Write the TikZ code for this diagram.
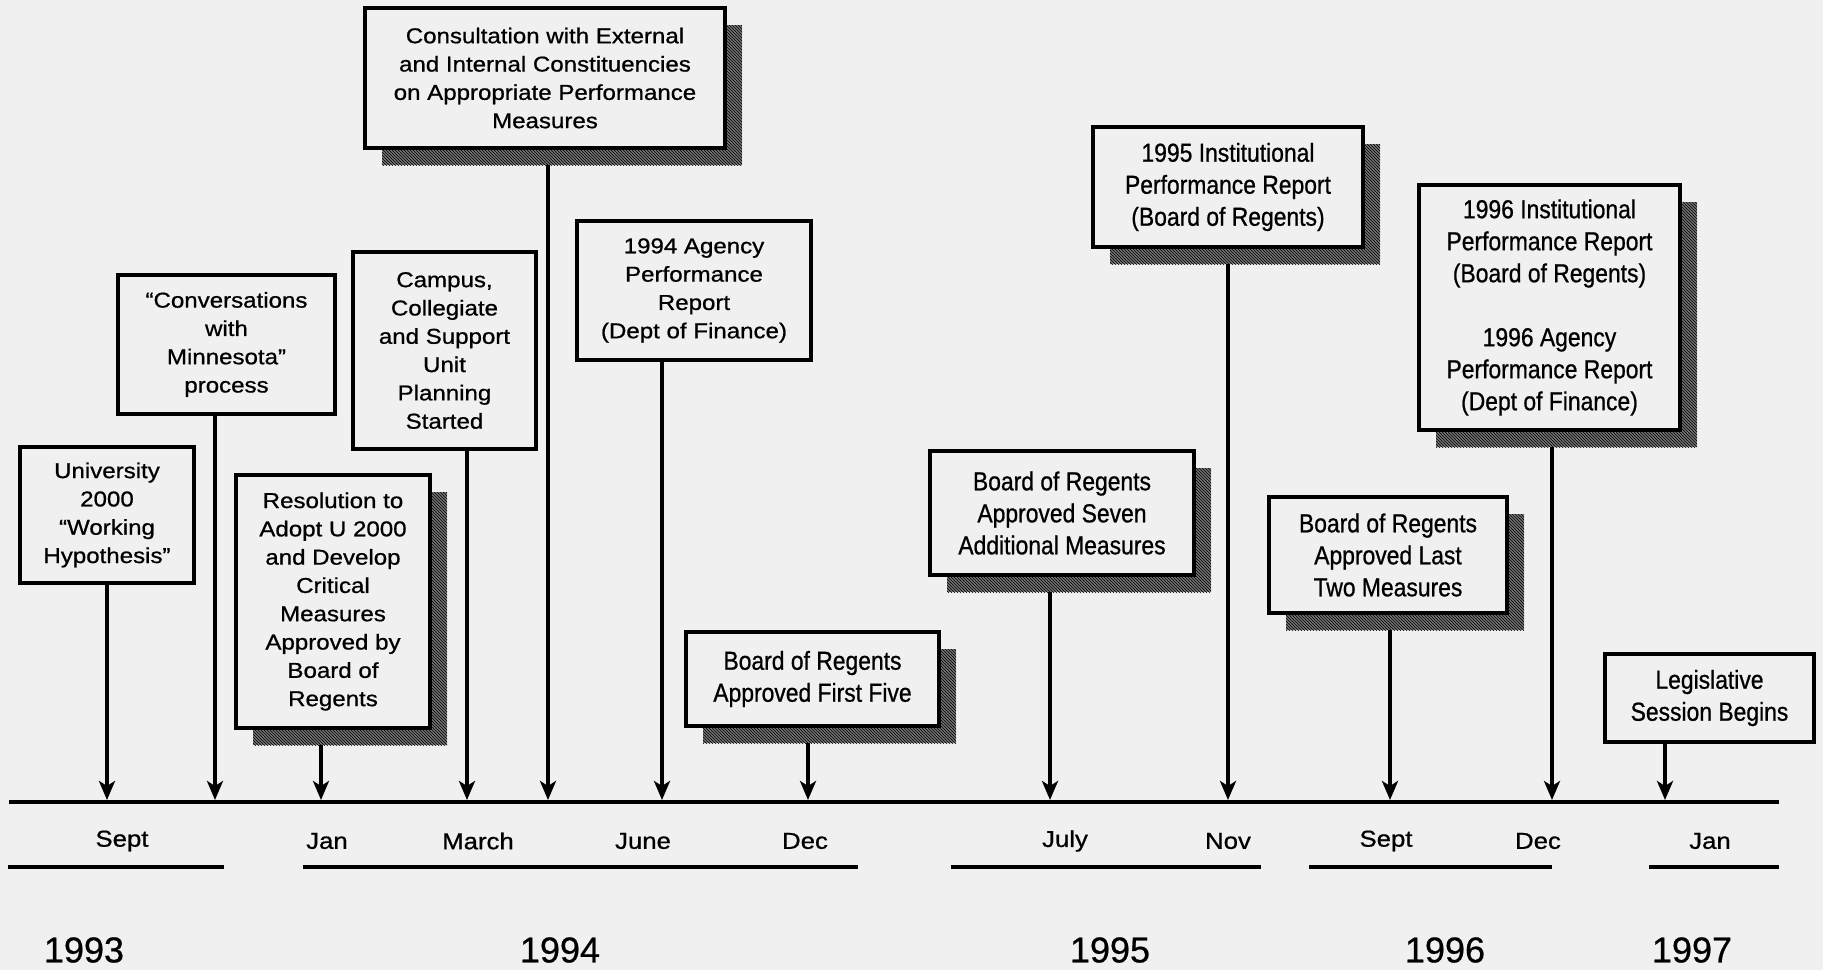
\documentclass[tikz,border=0pt]{standalone}
\usepackage{fontspec}
\setmainfont[FakeBold=0.6]{Liberation Sans}
\newfontfamily\widesans[FakeStretch=1.12, FakeBold=0.8]{Liberation Sans}
\newfontfamily\narrowsans[FakeStretch=0.88, FakeBold=0.8]{Liberation Sans}
\usetikzlibrary{shadows,patterns,arrows.meta,backgrounds}
\definecolor{paper}{gray}{0.94}
\tikzstyle{l2}=[line width=3.5pt]
\tikzstyle{ev}=[rectangle, draw=black, l2, fill=paper, align=center, inner sep=4pt, font=\widesans\fontsize{21.5}{28.3}\selectfont]
\tikzstyle{evr}=[ev, font=\narrowsans\fontsize{26}{32}\selectfont]
\tikzstyle{shd}=[drop shadow={shadow xshift=17pt, shadow yshift=-17pt, opacity=1, fill=black!55, postaction={pattern=north west lines, pattern color=black}}]
\tikzstyle{conn}=[l2, -{Stealth[length=19pt, width=16pt, inset=5pt]}]
\tikzstyle{mon}=[font=\widesans\fontsize{23}{28}\selectfont]
\tikzstyle{yr}=[font=\fontsize{36}{40}\selectfont]

\begin{document}
\begin{tikzpicture}[x=1pt, y=-1pt]
    \useasboundingbox (0,0) rectangle (1823,970);
    % event boxes
    \node[ev, minimum width=174pt, minimum height=136pt] at (107,515) (univ) {University\\2000\\“Working\\Hypothesis”};
    \node[ev, minimum width=217pt, minimum height=139pt] at (226.5,344.5) (conv) {“Conversations\\with\\Minnesota”\\process};
    \node[ev, shd, minimum width=194pt, minimum height=253pt] at (333,601.5) (resol) {Resolution to\\Adopt U 2000\\and Develop\\Critical\\Measures\\Approved by\\Board of\\Regents};
    \node[ev, minimum width=183pt, minimum height=197pt] at (444.5,350.5) (campus) {Campus,\\Collegiate\\and Support\\Unit\\Planning\\Started};
    \node[ev, shd, minimum width=360pt, minimum height=140pt] at (545,78) (consult) {Consultation with External\\and Internal Constituencies\\on Appropriate Performance\\Measures};
    \node[ev, minimum width=234pt, minimum height=139pt] at (694,290.5) (agency94) {1994 Agency\\Performance\\Report\\(Dept of Finance)};
    \node[evr, shd, minimum width=253pt, minimum height=94pt] at (812.5,679) (five) {Board of Regents\\Approved First Five};
    \node[evr, shd, minimum width=264pt, minimum height=124pt] at (1062,513) (seven) {Board of Regents\\Approved Seven\\Additional Measures};
    \node[evr, shd, minimum width=270pt, minimum height=120pt] at (1228,187) (inst95) {1995 Institutional\\Performance Report\\(Board of Regents)};
    \node[evr, shd, minimum width=238pt, minimum height=116pt] at (1388,555) (lasttwo) {Board of Regents\\Approved Last\\Two Measures};
    \node[evr, shd, minimum width=261pt, minimum height=245pt] at (1549.5,307.5) (inst96) {1996 Institutional\\Performance Report\\(Board of Regents)\\[32pt]1996 Agency\\Performance Report\\(Dept of Finance)};
    \node[evr, minimum width=209pt, minimum height=88pt] at (1709.5,698) (legis) {Legislative\\Session Begins};

    % points on the time line
    \coordinate (p1) at (107,800);
    \coordinate (p2) at (215,800);
    \coordinate (p3) at (321,800);
    \coordinate (p4) at (467,800);
    \coordinate (p5) at (548,800);
    \coordinate (p6) at (662,800);
    \coordinate (p7) at (808,800);
    \coordinate (p8) at (1050,800);
    \coordinate (p9) at (1228,800);
    \coordinate (p10) at (1390,800);
    \coordinate (p11) at (1552,800);
    \coordinate (p12) at (1665,800);
    \draw[line width=4pt] (9,802) -- (1779,802);

    % months
    \node[mon] at (122,841) (m1) {Sept};
    \node[mon] at (327,841) (m2) {Jan};
    \node[mon] at (478,841) (m3) {March};
    \node[mon] at (643,841) (m4) {June};
    \node[mon] at (805,841) (m5) {Dec};
    \node[mon] at (1065,841) (m6) {July};
    \node[mon] at (1228,841) (m7) {Nov};
    \node[mon] at (1386,841) (m8) {Sept};
    \node[mon] at (1538,841) (m9) {Dec};
    \node[mon] at (1710,841) (m10) {Jan};
    \draw[line width=4pt] (8,867) -- (224,867);
    \draw[line width=4pt] (303,867) -- (858,867);
    \draw[line width=4pt] (951,867) -- (1261,867);
    \draw[line width=4pt] (1309,867) -- (1552,867);
    \draw[line width=4pt] (1649,867) -- (1779,867);

    % years
    \node[yr] at (84,950) (y93) {1993};
    \node[yr] at (560,950) (y94) {1994};
    \node[yr] at (1110,950) (y95) {1995};
    \node[yr] at (1445,950) (y96) {1996};
    \node[yr] at (1692,950) (y97) {1997};

    \begin{scope}[on background layer]
    \fill[paper] (0,0) rectangle (1823,970);
    \draw[conn] (univ.south -| p1) -- (p1);
    \draw[conn] (conv.south -| p2) -- (p2);
    \draw[conn] (resol.south -| p3) -- (p3);
    \draw[conn] (campus.south -| p4) -- (p4);
    \draw[conn] (consult.south -| p5) -- (p5);
    \draw[conn] (agency94.south -| p6) -- (p6);
    \draw[conn] (five.south -| p7) -- (p7);
    \draw[conn] (seven.south -| p8) -- (p8);
    \draw[conn] (inst95.south -| p9) -- (p9);
    \draw[conn] (lasttwo.south -| p10) -- (p10);
    \draw[conn] (inst96.south -| p11) -- (p11);
    \draw[conn] (legis.south -| p12) -- (p12);
    \end{scope}
\end{tikzpicture}
\end{document}
